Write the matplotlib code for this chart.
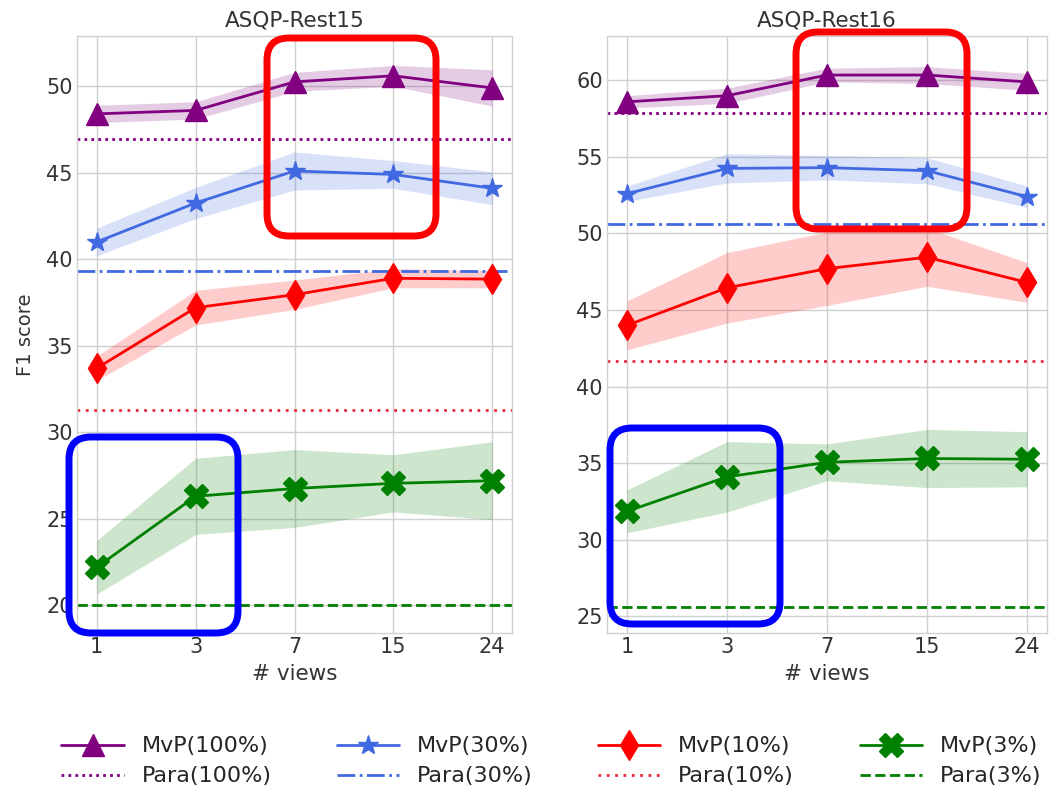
import matplotlib
matplotlib.use("Agg")
import matplotlib.pyplot as plt
from matplotlib.patches import FancyBboxPatch
import numpy as np

plt.style.use('seaborn-v0_8-whitegrid')
plt.rcParams['font.family'] = ['DejaVu Sans']

views = ["1", "3", "7", "15", "24"]
titles = ["ASQP-Rest15", "ASQP-Rest16"]
series_names = ["100%", "30%", "10%", "3%"]

# Rest15
r15_mean = {
    "100%": [48.4, 48.6, 50.25, 50.6, 49.9],
    "30%": [41.0, 43.25, 45.1, 44.9, 44.1],
    "10%": [33.7, 37.2, 37.95, 38.9, 38.85],
    "3%": [22.2, 26.3, 26.75, 27.05, 27.2],
}
r15_err = {
    "100%": [0.5, 0.5, 0.55, 0.6, 1.05],
    "30%": [0.8, 0.9, 1.1, 0.8, 0.95],
    "10%": [0.7, 1.0, 0.85, 0.55, 0.5],
    "3%": [1.55, 2.2, 2.25, 1.65, 2.25],
}
r15_para = {"100%": 46.95, "30%": 39.33, "10%": 31.3, "3%": 20.0}

# Rest16
r16_mean = {
    "100%": [58.6, 59.0, 60.35, 60.35, 59.9],
    "30%": [52.6, 54.25, 54.3, 54.1, 52.4],
    "10%": [44.0, 46.45, 47.7, 48.45, 46.8],
    "3%": [31.85, 34.1, 35.05, 35.3, 35.25],
}
r16_err = {
    "100%": [0.4, 0.5, 0.45, 0.55, 0.55],
    "30%": [0.5, 0.95, 0.8, 0.85, 0.7],
    "10%": [1.6, 2.3, 2.4, 1.9, 1.3],
    "3%": [1.4, 2.3, 1.2, 1.9, 1.8],
}
r16_para = {"100%": 57.9, "30%": 50.65, "10%": 41.65, "3%": 25.6}

colors = {"100%": "purple", "30%": "royalblue", "10%": "red", "3%": "green"}
markers = {"100%": "^", "30%": "*", "10%": "d", "3%": "X"}
msizes = {"100%": 16, "30%": 15, "10%": 15, "3%": 17}
para_styles = {"100%": (0, (1, 1.5)), "30%": "-.", "10%": (0, (1, 2)), "3%": "--"}
para_colors = {"100%": "purple", "30%": "royalblue", "10%": "#e8283a", "3%": "green"}

W, H = 1054, 789
fig = plt.figure(figsize=(W / 100, H / 100), dpi=100)
ax1 = fig.add_axes([77 / W, 1 - 633 / H, 435 / W, 597 / H])
ax2 = fig.add_axes([607 / W, 1 - 633 / H, 440 / W, 597 / H])

datasets = [(ax1, r15_mean, r15_err, r15_para, (18.4, 52.9), np.arange(20, 51, 5)),
            (ax2, r16_mean, r16_err, r16_para, (23.9, 62.9), np.arange(25, 61, 5))]

x = np.arange(len(views))
handles = []
for i, (ax, means, errs, paras, ylim, yt) in enumerate(datasets):
    for s in series_names:
        m = np.array(means[s])
        e = np.array(errs[s])
        c = colors[s]
        ax.fill_between(x, m - e, m + e, color=c, alpha=0.2, linewidth=0)
        l1, = ax.plot(x, m, color=c, marker=markers[s], markersize=msizes[s],
                      linewidth=2, label=f"MvP({s})")
        l2 = ax.axhline(paras[s], color=para_colors[s], linestyle=para_styles[s],
                        linewidth=2, label=f"Para({s})")
        if i == 0:
            handles.extend([l1, l2])
    ax.set_xlim(-0.2, 4.2)
    ax.set_ylim(*ylim)
    ax.set_yticks(yt)
    ax.set_xticks(x)
    ax.set_xticklabels(views)
    ax.tick_params(labelsize=15, colors='#333333', pad=3)
    ax.set_title(titles[i], fontsize=15.5, color='#333333', pad=7)
    ax.set_xlabel("# views", fontsize=15.5, color='#333333', labelpad=5)
    ax.grid(True, color='#d0d0d0', linewidth=1)
    for sp in ax.spines.values():
        sp.set_visible(True)
        sp.set_color('#d0d0d0')
        sp.set_linewidth(1)

ax1.set_ylabel("F1 score", fontsize=14, color='#333333', labelpad=8)

fig.legend(handles=handles, loc='lower center', ncol=4, bbox_to_anchor=(0.523, -0.022),
           fontsize=16, frameon=False, handlelength=2.8, columnspacing=2.95,
           labelspacing=0.45, handletextpad=0.8)

# highlight boxes (pixel positions of the annotations)
boxes = [((267, 38, 436, 236), "red"), ((69, 437, 238, 633), "blue"),
         ((796, 32, 967, 229), "red"), ((610, 428, 780, 624), "blue")]
for (x0, y0, x1, y1), c in boxes:
    p = FancyBboxPatch((x0 / 100, (H - y1) / 100), (x1 - x0) / 100, (y1 - y0) / 100,
                       boxstyle="round,pad=0,rounding_size=0.22",
                       transform=fig.dpi_scale_trans, fill=False,
                       edgecolor=c, linewidth=5, zorder=10)
    fig.add_artist(p)

fig.savefig("out.png", dpi=100)
